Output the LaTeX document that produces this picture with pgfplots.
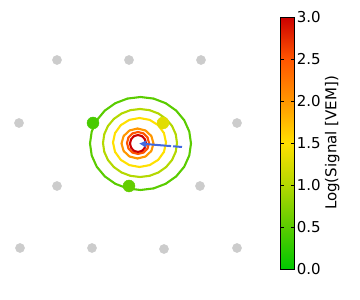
\documentclass[border=0pt]{standalone}
\usepackage{fontspec}
\setmainfont{DejaVu Sans}
\usepackage{pgfplots}
\pgfplotsset{compat=1.18}
\usetikzlibrary{arrows.meta}
\definecolor{station}{HTML}{CCCCCC}
\definecolor{axisblue}{HTML}{4169E1}
\begin{document}
\begin{tikzpicture}
\path (0,0) rectangle (360pt,300pt);
\begin{axis}[
  at={(0,0)}, anchor=south west,
  scale only axis, width=360pt, height=300pt,
  xmin=0, xmax=360, ymin=0, ymax=300,
  hide x axis, hide y axis,
  colormap={signal}{rgb255(0)=(0,200,0); rgb255(1)=(90,204,0); rgb255(2)=(180,216,0); rgb255(3)=(255,224,0); rgb255(4)=(255,150,0); rgb255(5)=(255,85,0); rgb255(6)=(204,0,0)},
  point meta min=0, point meta max=3,
  colorbar,
  colorbar style={
    at={(parent axis.south west)}, anchor=south west,
    xshift=272.3pt, yshift=31pt,
    scale only axis, width=13.4pt, height=252pt,
    ytick={0,0.5,1,1.5,2,2.5,3},
    ytick pos=both, yticklabel pos=right,
    tick align=inside, major tick length=3pt,
    tick style={black, line width=0.6pt},
    axis line style={line width=0.8pt},
    yticklabel style={font=\fontsize{15}{18}\selectfont, xshift=-1pt, /pgf/number format/fixed, /pgf/number format/fixed zerofill, /pgf/number format/precision=1, /pgf/number format/assume math mode=true},
    ylabel={Log(Signal [VEM])},
    ylabel style={font=\fontsize{15}{18}\selectfont, yshift=2.5pt},
  },
]
% inactive stations
\addplot[only marks, mark=*, mark size=4.6pt, color=station] coordinates {
(57,240) (129,240) (201,240)
(19,177) (237,177)
(57,114) (200,114)
(20,52) (92,52) (164,51) (237,52)
};
% contours
\addplot[mesh, point meta=0.5, line width=2.1pt, line cap=round] coordinates {
(191.0,156.5) (189.28,168.53) (184.23,179.75) (176.21,189.38) (165.75,196.77) (153.57,201.41)
(140.5,203.0) (127.43,201.41) (115.25,196.77) (104.79,189.38) (96.77,179.75) (91.72,168.53)
(90.0,156.5) (91.72,144.47) (96.77,133.25) (104.79,123.62) (115.25,116.23) (127.43,111.59)
(140.5,110.0) (153.57,111.59) (165.75,116.23) (176.21,123.62) (184.23,133.25) (189.28,144.47)
(191.0,156.5)
};
\addplot[mesh, point meta=1.0, line width=2.1pt, line cap=round] coordinates {
(177.0,157.0) (175.74,165.80) (172.04,174.0) (166.16,181.04) (158.5,186.44) (149.58,189.84)
(140.0,191.0) (130.42,189.84) (121.5,186.44) (113.84,181.04) (107.96,174.0) (104.26,165.80)
(103.0,157.0) (104.26,148.20) (107.96,140.0) (113.84,132.96) (121.5,127.56) (130.42,124.16)
(140.0,123.0) (149.58,124.16) (158.5,127.56) (166.16,132.96) (172.04,140.0) (175.74,148.20)
(177.0,157.0)
};
\addplot[mesh, point meta=1.5, line width=2.1pt, line cap=round] coordinates {
(166.0,157.5) (163.98,166.88) (158.24,174.82) (149.64,180.13) (139.5,182.0) (129.36,180.13)
(120.76,174.82) (115.02,166.88) (113.0,157.5) (115.02,148.12) (120.76,140.18) (129.36,134.87)
(139.5,133.0) (149.64,134.87) (158.24,140.18) (163.98,148.12) (166.0,157.5)
};
\addplot[mesh, point meta=2.0, line width=2.1pt, line cap=round] coordinates {
(153.5,156.5) (151.36,164.0) (145.5,169.49) (137.5,171.5) (129.5,169.49) (123.64,164.0)
(121.5,156.5) (123.64,149.0) (129.5,143.51) (137.5,141.5) (145.5,143.51) (151.36,149.0)
(153.5,156.5)
};
\addplot[mesh, point meta=2.5, line width=2.1pt, line cap=round] coordinates {
(149,157) (147.53,162.5) (143.5,166.53) (138,168) (132.5,166.53) (128.47,162.5)
(127,157) (128.47,151.5) (132.5,147.47) (138,146) (143.5,147.47) (147.53,151.5)
(149,157)
};
\addplot[mesh, point meta=3.0, line width=2.1pt, line cap=round] coordinates {
(146,156.5) (144.93,160.75) (142,163.86) (138,165) (134,163.86) (131.07,160.75)
(130,156.5) (131.07,152.25) (134,149.14) (138,148) (142,149.14) (144.93,152.25)
(146,156.5)
};
% hit stations
\addplot[scatter, only marks, mark=*, mark size=6pt, point meta=explicit,
  scatter/use mapped color={draw=mapped color, fill=mapped color}] coordinates {
(93,177) [0.4]
(163,177) [1.3]
(129,114) [0.55]
};
% shower axis
\addplot[axisblue, line width=2pt, dash pattern=on 9pt off 2pt on 40pt, -{Latex[length=7pt,width=8pt]}] coordinates {
(182,153) (139,156.5)
};
\end{axis}
\end{tikzpicture}
\end{document}
